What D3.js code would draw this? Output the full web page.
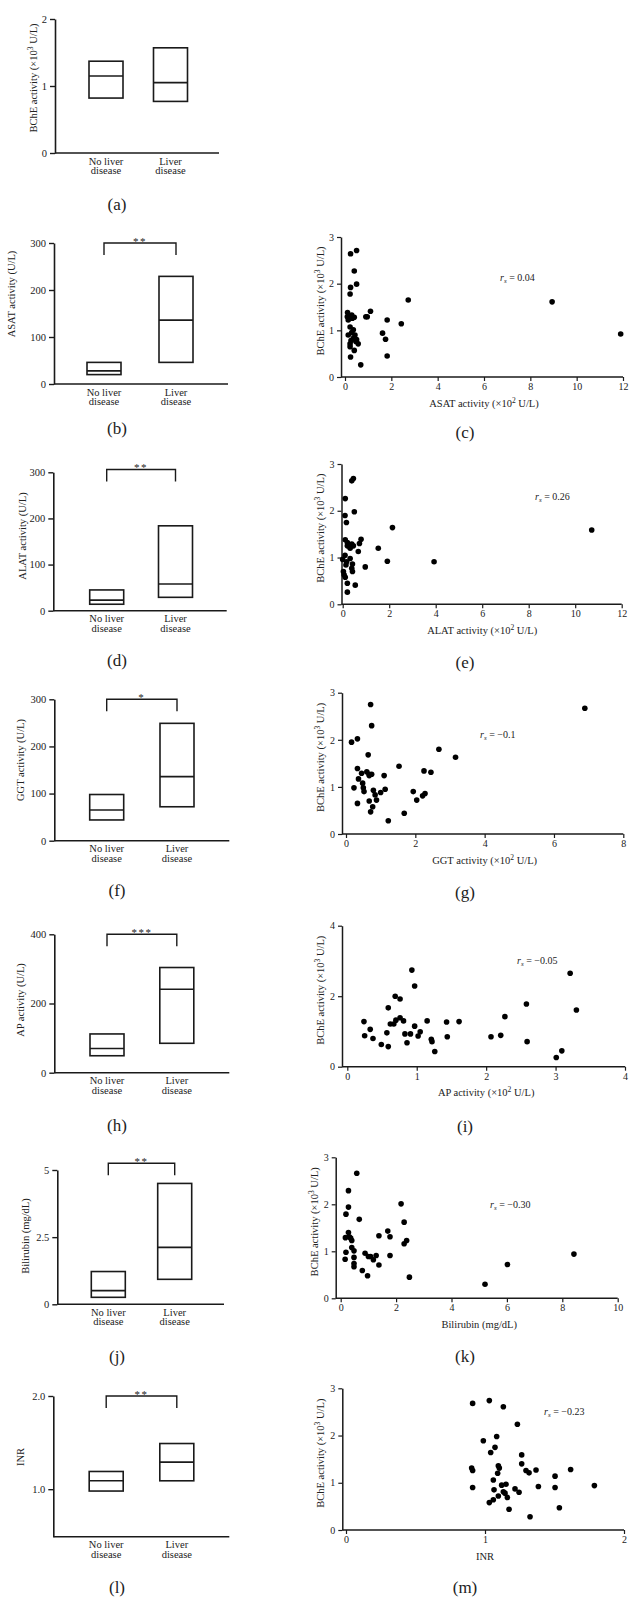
<!DOCTYPE html>
<html><head><meta charset="utf-8">
<script src="https://cdn.jsdelivr.net/npm/d3@7"></script>
<style>
body{margin:0;background:#fff}
svg{display:block}
text{font-family:"Liberation Serif","DejaVu Serif",serif;fill:#222}
</style>
</head><body>
<svg id="chart" width="642" height="1610"></svg>
<script>
// ---------- DATA ----------
const groups = ["No liver disease", "Liver disease"];
// box values: [lower, median, upper] per group
const bcheBox = [[0.82, 1.15, 1.37], [0.77, 1.05, 1.57]];
const asatBox = [[20, 28, 46], [46, 136, 229]];
const alatBox = [[14, 23, 45], [29, 58, 184]];
const ggtBox  = [[44, 65, 98], [72, 136, 249]];
const apBox   = [[49, 70, 112], [85, 241, 304]];
const biliBox = [[0.26, 0.51, 1.22], [0.93, 2.12, 4.50]];
const inrBox  = [[0.98, 1.09, 1.19], [1.09, 1.29, 1.49]];
const sigLabels = ["**", "**", "*", "***", "**", "**"];

const asatX = [0.24,0.5,0.40,0.5,0.24,0.22,0.11,0.29,0.40,0.14,0.90,0.96,1.1,0.22,0.36,0.29,0.14,0.43,0.36,0.5,0.22,0.57,0.22,0.40,0.24,0.68,1.62,1.75,1.82,1.82,2.43,2.73,8.94,11.9,0.32,0.10,0.47,0.26];
const asatY = [2.64,2.71,2.27,1.99,1.92,1.78,1.38,1.33,1.28,1.22,1.29,1.29,1.41,1.07,1.01,0.95,0.90,0.90,0.83,0.80,0.71,0.71,0.65,0.57,0.43,0.26,0.94,0.81,1.22,0.45,1.14,1.65,1.61,0.92,1.26,1.29,0.76,0.78];

const alatX = [0.11,0.39,0.46,0.5,0.1,0.16,0.11,0.2,0.39,0.2,0.46,0.32,0.79,0.72,0.67,0.1,0,0.32,0.17,0.42,0.14,0.39,0.42,0.03,0.06,0.11,0.2,0.54,0.2,0.97,1.53,1.92,2.14,3.93,10.71];
const alatY = [2.26,2.64,2.69,1.98,1.90,1.75,1.38,1.32,1.29,1.25,1.25,1.2,1.39,1.30,1.13,1.05,0.96,0.98,0.91,0.86,0.84,0.77,0.70,0.70,0.63,0.58,0.45,0.41,0.26,0.80,1.20,0.92,1.64,0.91,1.59];

const ggtX = [0.16,0.33,0.71,0.74,0.64,0.33,0.45,0.60,0.67,0.74,0.67,0.36,0.48,0.23,0.50,0.52,0.33,0.67,0.79,0.84,0.88,0.77,0.71,1.0,1.13,1.10,1.22,1.53,1.68,1.94,2.04,2.21,2.28,2.25,2.45,2.68,3.16,6.89];
const ggtY = [1.95,2.02,2.75,2.30,1.68,1.39,1.29,1.32,1.27,1.27,1.24,1.17,1.08,0.98,0.98,0.90,0.65,0.70,0.93,0.83,0.72,0.58,0.47,0.88,0.95,1.24,0.28,1.44,0.44,0.90,0.72,0.81,0.86,1.34,1.31,1.80,1.63,2.67];

const apX = [0.24,0.25,0.33,0.37,0.49,0.57,0.59,0.59,0.62,0.69,0.67,0.70,0.76,0.76,0.81,0.83,0.86,0.93,0.91,0.97,0.97,1.02,1.05,1.15,1.21,1.22,1.26,1.43,1.44,1.61,2.07,2.21,2.27,2.58,2.59,3.01,3.09,3.21,3.30];
const apY = [1.28,0.88,1.06,0.80,0.63,0.96,0.57,1.67,1.21,2.00,1.21,1.32,1.39,1.92,1.30,0.93,0.68,2.74,0.93,2.29,1.15,0.87,0.99,1.30,0.78,0.71,0.43,1.27,0.85,1.28,0.85,0.89,1.42,1.78,0.71,0.26,0.45,2.65,1.61];

const biliX = [0.16,0.19,0.17,0.19,0.28,0.28,0.28,0.31,0.36,0.40,0.40,0.48,0.48,0.48,0.48,0.58,0.67,0.78,0.88,0.97,1.0,1.08,1.18,1.28,1.38,1.38,1.70,1.78,1.78,2.18,2.29,2.29,2.38,2.48,5.21,6.02,8.42];
const biliY = [0.83,0.98,1.29,1.79,2.29,1.94,1.40,1.31,1.28,1.23,1.08,1.01,0.87,0.74,0.67,2.66,1.68,0.59,0.96,0.48,0.89,0.89,0.82,0.91,1.33,0.71,1.43,1.31,0.91,2.01,1.62,1.16,1.23,0.45,0.30,0.72,0.94];

const inrX = [0.911,1.031,1.132,1.233,0.988,1.084,1.072,1.041,0.904,0.911,1.096,1.103,1.091,1.264,1.264,1.295,1.317,1.367,1.616,1.504,0.911,1.060,1.120,1.151,1.065,1.132,1.144,1.216,1.245,1.384,1.504,1.787,1.096,1.161,1.060,1.031,1.173,1.535,1.324];
const inrY = [2.68,2.74,2.61,2.24,1.89,1.98,1.75,1.64,1.31,1.26,1.36,1.31,1.20,1.59,1.40,1.26,1.21,1.27,1.28,1.14,0.90,1.06,0.95,0.97,0.85,0.81,0.78,0.87,0.80,0.92,0.90,0.94,0.72,0.69,0.64,0.58,0.44,0.47,0.28];

const rsValues = ["0.04", "0.26", "\u22120.1", "\u22120.05", "\u22120.30", "\u22120.23"];

// ---------- LAYOUT ----------
const INK = "#1a1a1a";
const svg = d3.select("#chart");

function supText(sel, pre, sup, post) {
  sel.append("tspan").text(pre);
  if (sup) {
    sel.append("tspan").attr("font-size", "0.72em").attr("dy", "-0.5em").text(sup);
    sel.append("tspan").attr("dy", "0.36em").text(post);
  }
}

const boxPanels = [
  {tag:"(a)", data:bcheBox, lab:["BChE activity (\u00d710","3"," U/L)"], dom:[0,2], ticks:[0,1,2], fmt:d3.format("d"),
   yTop:19, yBot:153, ax:55, xEnd:219, cx:[106,170.5], tagY:204, labX:37, labY:78, sig:null},
  {tag:"(b)", data:asatBox, lab:["ASAT activity (U/L)"], dom:[0,300], ticks:[0,100,200,300], fmt:d3.format("d"),
   yTop:243, yBot:384, ax:54, xEnd:228, cx:[104,176], tagY:428, labX:15, labY:294, sig:sigLabels[0], sigV:300},
  {tag:"(d)", data:alatBox, lab:["ALAT activity (U/L)"], dom:[0,300], ticks:[0,100,200,300], fmt:d3.format("d"),
   yTop:472.3, yBot:610.7, ax:53.3, xEnd:226.7, cx:[106.7,175.5], tagY:660, labX:26, labY:536, sig:sigLabels[1], sigV:306},
  {tag:"(f)", data:ggtBox, lab:["GGT activity (U/L)"], dom:[0,300], ticks:[0,100,200,300], fmt:d3.format("d"),
   yTop:699.3, yBot:840.7, ax:54.3, xEnd:229.3, cx:[106.7,177], tagY:890, labX:24, labY:760, sig:sigLabels[2], sigV:300},
  {tag:"(h)", data:apBox, lab:["AP activity (U/L)"], dom:[0,400], ticks:[0,200,400], fmt:d3.format("d"),
   yTop:934.3, yBot:1072.7, ax:54.3, xEnd:229.3, cx:[107,176.8], tagY:1125, labX:24, labY:1000, sig:sigLabels[3], sigV:400},
  {tag:"(j)", data:biliBox, lab:["Bilirubin (mg/dL)"], dom:[0,5], ticks:[0,2.5,5], fmt:d => d === 2.5 ? "2.5" : d3.format("d")(d),
   yTop:1170, yBot:1304.3, ax:57.3, xEnd:224, cx:[108.3,174.7], tagY:1356, labX:29, labY:1236, sig:sigLabels[4], sigV:5.25},
  {tag:"(l)", data:inrBox, lab:["INR"], dom:[0.49,2.0], ticks:[1.0,2.0], fmt:d3.format(".1f"),
   yTop:1396, yBot:1536.7, ax:53.3, xEnd:229.3, cx:[106.2,176.8], tagY:1587, labX:24, labY:1457, sig:sigLabels[5], sigV:2.0}
];

const BW = 34;

boxPanels.forEach(p => {
  const g = svg.append("g");
  const y = d3.scaleLinear().domain(p.dom).range([p.yBot, p.yTop]);
  const x = d3.scalePoint().domain(groups).range(p.cx);

  const axis = d3.axisLeft(y).tickValues(p.ticks).tickSize(5).tickSizeOuter(0).tickPadding(3).tickFormat(p.fmt);
  const ag = g.append("g").attr("transform", `translate(${p.ax},0)`).call(axis);
  ag.select(".domain").attr("stroke", INK).attr("stroke-width", 1.6);
  ag.selectAll(".tick line").attr("stroke", INK).attr("stroke-width", 1.4);
  ag.selectAll(".tick text").attr("font-size", 10.5).attr("fill", "#222")
    .style("font-family", '"Liberation Serif",serif');

  g.append("line").attr("x1", p.ax).attr("x2", p.xEnd).attr("y1", p.yBot).attr("y2", p.yBot)
    .attr("stroke", INK).attr("stroke-width", 1.6);

  // boxes
  g.selectAll("rect.box").data(p.data).join("rect").attr("class", "box")
    .attr("x", (d, i) => x(groups[i]) - BW / 2)
    .attr("y", d => y(d[2]))
    .attr("width", BW)
    .attr("height", d => y(d[0]) - y(d[2]))
    .attr("fill", "none").attr("stroke", INK).attr("stroke-width", 1.6);
  g.selectAll("line.med").data(p.data).join("line").attr("class", "med")
    .attr("x1", (d, i) => x(groups[i]) - BW / 2)
    .attr("x2", (d, i) => x(groups[i]) + BW / 2)
    .attr("y1", d => y(d[1])).attr("y2", d => y(d[1]))
    .attr("stroke", INK).attr("stroke-width", 1.6);

  // category labels
  groups.forEach(gname => {
    const words = gname.split(" ");
    const l1 = words.slice(0, -1).join(" "), l2 = words[words.length - 1];
    const t = g.append("text").attr("x", x(gname)).attr("y", p.yBot + 11.5)
      .attr("text-anchor", "middle").attr("font-size", 10.5);
    t.append("tspan").attr("x", x(gname)).text(l1);
    t.append("tspan").attr("x", x(gname)).attr("dy", 9.3).text(l2);
  });

  // y label
  const yl = g.append("text").attr("transform", `translate(${p.labX},${p.labY}) rotate(-90)`)
    .attr("text-anchor", "middle").attr("font-size", 10.5);
  supText(yl, p.lab[0], p.lab[1], p.lab[2]);

  // significance bracket
  if (p.sig) {
    const by = y(p.sigV);
    const x1 = x(groups[0]), x2 = x(groups[1]);
    g.append("path").attr("d", `M${x1},${by + 12}V${by}H${x2}V${by + 12}`)
      .attr("fill", "none").attr("stroke", INK).attr("stroke-width", 1.4);
    g.append("text").attr("x", (x1 + x2) / 2).attr("y", by + 1.5).attr("text-anchor", "middle")
      .attr("font-size", 11).attr("letter-spacing", 1.5).text(p.sig);
  }

  // panel tag
  g.append("text").attr("x", 117).attr("y", p.tagY).attr("dy", "0.35em").attr("text-anchor", "middle")
    .attr("font-size", 17).text(p.tag);
});

// ---------- SCATTER PANELS ----------
const bcheLab = ["BChE activity (\u00d710", "3", " U/L)"];
const scatPanels = [
  {tag:"(c)", xs:asatX, ys:asatY, xDom:[0,12], xTicks:[0,2,4,6,8,10,12], yDom:[0,3], yTicks:[0,1,2,3],
   x0:345, x1:623, yTop:237, yBot:377, lineX:341, labX:324, xlab:["ASAT activity (\u00d710","2"," U/L)"], rs:rsValues[0], rsX:500, rsY:281, tagY:432},
  {tag:"(e)", xs:alatX, ys:alatY, xDom:[0,12], xTicks:[0,2,4,6,8,10,12], yDom:[0,3], yTicks:[0,1,2,3],
   x0:342.7, x1:621.7, yTop:464, yBot:604.3, lineX:341.5, labX:324, xlab:["ALAT activity (\u00d710","2"," U/L)"], rs:rsValues[1], rsX:535, rsY:500, tagY:662},
  {tag:"(g)", xs:ggtX, ys:ggtY, xDom:[0,8], xTicks:[0,2,4,6,8], yDom:[0,3], yTicks:[0,1,2,3],
   x0:346, x1:623.3, yTop:692.7, yBot:834, lineX:342, labX:324, xlab:["GGT activity (\u00d710","2"," U/L)"], rs:rsValues[2], rsX:480, rsY:738, tagY:892},
  {tag:"(i)", xs:apX, ys:apY, xDom:[0,4], xTicks:[0,1,2,3,4], yDom:[0,4], yTicks:[0,2,4],
   x0:347.3, x1:625, yTop:925.7, yBot:1066.7, lineX:342, labX:324, xlab:["AP activity (\u00d710","2"," U/L)"], rs:rsValues[3], rsX:517, rsY:964, tagY:1126},
  {tag:"(k)", xs:biliX, ys:biliY, xDom:[0,10], xTicks:[0,2,4,6,8,10], yDom:[0,3], yTicks:[0,1,2,3],
   x0:340.7, x1:617.7, yTop:1157.3, yBot:1298.3, lineX:335.7, labX:318, xlab:["Bilirubin (mg/dL)"], rs:rsValues[4], rsX:490, rsY:1208, tagY:1356},
  {tag:"(m)", xs:inrX, ys:inrY, xDom:[0,2], xTicks:[0,1,2], yDom:[0,3], yTicks:[0,1,2,3],
   x0:346, x1:624, yTop:1388.3, yBot:1530, lineX:342.3, labX:324, xlab:["INR"], rs:rsValues[5], rsX:544, rsY:1415, tagY:1587}
];

scatPanels.forEach(p => {
  const g = svg.append("g");
  const x = d3.scaleLinear().domain(p.xDom).range([p.x0, p.x1]);
  const y = d3.scaleLinear().domain(p.yDom).range([p.yBot, p.yTop]);

  const ya = g.append("g").attr("transform", `translate(${p.lineX},0)`)
    .call(d3.axisLeft(y).tickValues(p.yTicks).tickSize(4).tickSizeOuter(0).tickPadding(3).tickFormat(d3.format("d")));
  ya.select(".domain").attr("stroke", INK).attr("stroke-width", 1.5);
  const xa = g.append("g").attr("transform", `translate(0,${p.yBot})`)
    .call(d3.axisBottom(x).tickValues(p.xTicks).tickSize(4).tickSizeOuter(0).tickPadding(2).tickFormat(d3.format("d")));
  xa.select(".domain").remove();
  g.append("line").attr("x1", p.lineX).attr("x2", p.x1).attr("y1", p.yBot).attr("y2", p.yBot)
    .attr("stroke", INK).attr("stroke-width", 1.5);
  [ya, xa].forEach(a => {
    a.selectAll(".tick line").attr("stroke", INK).attr("stroke-width", 1.2);
    a.selectAll(".tick text").attr("font-size", 10).attr("fill", "#222")
      .style("font-family", '"Liberation Serif",serif');
  });

  g.selectAll("circle").data(p.xs.map((v, i) => [v, p.ys[i]])).join("circle")
    .attr("cx", d => x(d[0])).attr("cy", d => y(d[1])).attr("r", 2.8).attr("fill", "#000");

  // x label
  const xl = g.append("text").attr("x", (p.x0 + p.x1) / 2).attr("y", p.yBot + 29.5)
    .attr("text-anchor", "middle").attr("font-size", 10.5);
  supText(xl, p.xlab[0], p.xlab[1], p.xlab[2]);

  // y label
  const yl = g.append("text").attr("transform", `translate(${p.labX},${(p.yTop + p.yBot) / 2 - 6}) rotate(-90)`)
    .attr("text-anchor", "middle").attr("font-size", 10.5);
  supText(yl, bcheLab[0], bcheLab[1], bcheLab[2]);

  // r_s annotation
  const rt = g.append("text").attr("x", p.rsX).attr("y", p.rsY).attr("font-size", 10);
  rt.append("tspan").attr("font-style", "italic").text("r");
  rt.append("tspan").attr("font-style", "italic").attr("font-size", 7).attr("dy", 2).text("s");
  rt.append("tspan").attr("dy", -2).text(" = " + p.rs);

  g.append("text").attr("x", 465).attr("y", p.tagY).attr("dy", "0.35em").attr("text-anchor", "middle")
    .attr("font-size", 17).text(p.tag);
});
</script>
</body></html>
